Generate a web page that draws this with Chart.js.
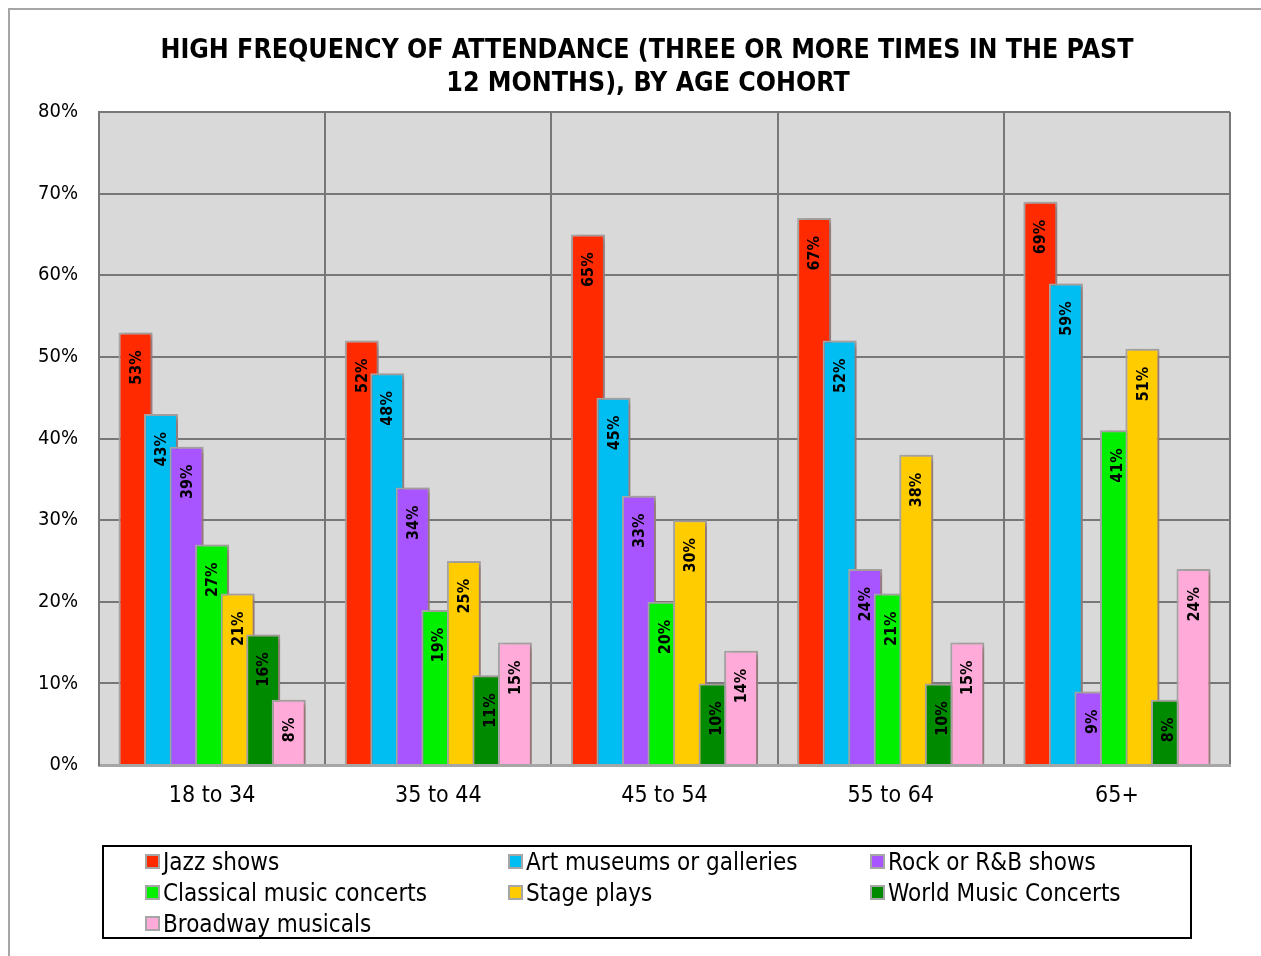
<!DOCTYPE html>
<html>
<head>
<meta charset="utf-8">
<script src="https://cdn.jsdelivr.net/npm/chart.js@4/dist/chart.umd.min.js"></script>
<style>
  html, body { margin: 0; padding: 0; background: #ffffff; }
  #wrap { width: 1261px; height: 956px; position: relative; }
  canvas { display: block; }
</style>
</head>
<body>
<div id="wrap"><canvas id="chart" width="1261" height="956"></canvas></div>
<script>
// ---- data -------------------------------------------------------------
const TITLE_LINES = [
  'HIGH FREQUENCY OF ATTENDANCE (THREE OR MORE TIMES IN THE PAST',
  '12 MONTHS), BY AGE COHORT'
];
const AGE_COHORTS = ['18 to 34', '35 to 44', '45 to 54', '55 to 64', '65+'];
const SERIES_NAMES = [
  'Jazz shows', 'Art museums or galleries', 'Rock or R&B shows',
  'Classical music concerts', 'Stage plays', 'World Music Concerts',
  'Broadway musicals'
];
const jazzShows         = [53, 52, 65, 67, 69];
const artMuseums        = [43, 48, 45, 52, 59];
const rockShows         = [39, 34, 33, 24, 9];
const classicalConcerts = [27, 19, 20, 21, 41];
const stagePlays        = [21, 25, 30, 38, 51];
const worldMusic        = [16, 11, 10, 10, 8];
const broadwayMusicals  = [8, 15, 14, 15, 24];
const Y_TICKS = [0, 10, 20, 30, 40, 50, 60, 70, 80];

// ---- styling ----------------------------------------------------------
const FONT = '"DejaVu Sans Condensed", "Liberation Sans", sans-serif';
const SERIES_COLORS = ['#ff2a00', '#00bdf2', '#a855ff', '#00f000', '#ffcc00', '#008a00', '#ffaad8'];
const SERIES_VALUES = [jazzShows, artMuseums, rockShows, classicalConcerts, stagePlays, worldMusic, broadwayMusicals];

const datasets = SERIES_NAMES.map((name, i) => ({
  label: name,
  data: SERIES_VALUES[i],
  backgroundColor: SERIES_COLORS[i],
  borderColor: '#a6a6a6',
  borderWidth: 2,
  borderSkipped: 'bottom'
}));

// Frame, plot background
const backdrop = {
  id: 'backdrop',
  beforeDraw(chart) {
    const { ctx, chartArea: a } = chart;
    ctx.save();
    ctx.fillStyle = '#ffffff';
    ctx.fillRect(0, 0, chart.width, chart.height);
    ctx.strokeStyle = '#a6a6a6';
    ctx.lineWidth = 2;
    ctx.strokeRect(9, 9, chart.width + 20, chart.height + 20);
    ctx.fillStyle = '#d9d9d9';
    ctx.fillRect(a.left, a.top, a.right - a.left, a.bottom - a.top);
    ctx.restore();
  }
};

// Bars are painted in series order so each bar overlaps the previous one,
// with a soft drop shadow; value labels are written vertically inside.
const overlappedBars = {
  id: 'overlappedBars',
  beforeDatasetsDraw(chart) {
    const { ctx, chartArea: a } = chart;
    ctx.save();
    ctx.beginPath();
    ctx.rect(a.left, a.top, a.right - a.left, a.bottom - a.top);
    ctx.clip();
    chart.data.datasets.forEach((ds, i) => {
      const meta = chart.getDatasetMeta(i);
      if (meta.hidden) return;
      ctx.save();
      ctx.shadowColor = 'rgba(120, 50, 50, 0.45)';
      ctx.shadowBlur = 6;
      ctx.shadowOffsetX = 4;
      ctx.shadowOffsetY = 2;
      meta.controller.draw();
      ctx.restore();
    });
    ctx.restore();

    // value labels
    ctx.save();
    ctx.fillStyle = '#000000';
    ctx.font = 'bold 16px ' + FONT;
    ctx.textAlign = 'right';
    ctx.textBaseline = 'middle';
    chart.data.datasets.forEach((ds, i) => {
      const meta = chart.getDatasetMeta(i);
      meta.data.forEach((bar, j) => {
        ctx.save();
        ctx.translate(bar.x, bar.y + 18);
        ctx.rotate(-Math.PI / 2);
        ctx.fillText(ds.data[j] + '%', 0, 1);
        ctx.restore();
      });
    });
    ctx.restore();
    return false;
  }
};

// Title and boxed legend
const titleAndLegend = {
  id: 'titleAndLegend',
  afterDraw(chart) {
    const { ctx } = chart;
    ctx.save();
    ctx.fillStyle = '#000000';
    ctx.font = 'bold 26.5px ' + FONT;
    ctx.textAlign = 'center';
    ctx.textBaseline = 'alphabetic';
    ctx.fillText(TITLE_LINES[0], 647, 58);
    ctx.fillText(TITLE_LINES[1], 648, 91);

    // legend box
    ctx.strokeStyle = '#000000';
    ctx.lineWidth = 2;
    ctx.strokeRect(103, 846, 1088, 92);

    const colX = [146, 509, 871];
    const rowY = [862, 893, 924];
    ctx.font = '24px ' + FONT;
    ctx.textAlign = 'left';
    ctx.textBaseline = 'middle';
    chart.data.datasets.forEach((ds, i) => {
      const x = colX[i % 3];
      const y = rowY[Math.floor(i / 3)];
      ctx.fillStyle = ds.backgroundColor;
      ctx.fillRect(x, y - 7, 13, 13);
      ctx.strokeStyle = '#a6a6a6';
      ctx.lineWidth = 2;
      ctx.strokeRect(x, y - 7, 13, 13);
      ctx.fillStyle = '#000000';
      ctx.fillText(ds.label, x + 17, y + 2);
    });
    ctx.restore();
  }
};

new Chart(document.getElementById('chart'), {
  type: 'bar',
  data: { labels: AGE_COHORTS, datasets },
  options: {
    responsive: false,
    animation: false,
    devicePixelRatio: 1,
    layout: { padding: { left: 0, top: 112, right: 31, bottom: 141 } },
    datasets: {
      bar: { categoryPercentage: 0.79, barPercentage: 1.33 }
    },
    plugins: {
      legend: { display: false },
      title: { display: false },
      tooltip: { enabled: false }
    },
    scales: {
      x: {
        offset: true,
        grid: { display: true, offset: true, color: '#777777', lineWidth: 2, drawTicks: false },
        border: { display: true, color: '#a6a6a6', width: 3 },
        ticks: { color: '#000000', font: { family: FONT, size: 23 }, padding: 17 },
        afterFit(scale) { scale.height = 50; }
      },
      y: {
        min: 0,
        max: 80,
        afterBuildTicks(scale) { scale.ticks = Y_TICKS.map(v => ({ value: v })); },
        grid: { color: '#777777', lineWidth: 2, drawTicks: false },
        border: { display: true, color: '#777777', width: 2 },
        ticks: {
          color: '#000000',
          font: { family: FONT, size: 20 },
          padding: 21,
          callback: v => v + '%'
        },
        afterFit(scale) { scale.width = 99; }
      }
    }
  },
  plugins: [backdrop, overlappedBars, titleAndLegend]
});
</script>
</body>
</html>
